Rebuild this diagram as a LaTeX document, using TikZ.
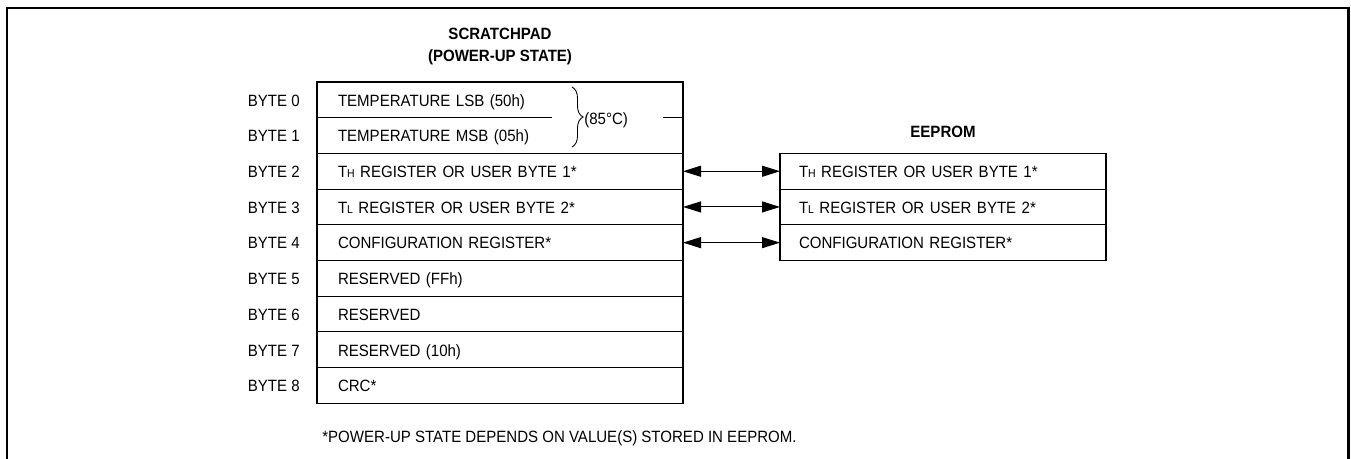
\documentclass[tikz,border=0pt]{standalone}
\usepackage{fontspec}
\setmainfont[FakeStretch=0.92]{Liberation Sans}
\usepackage{tikz}
\usetikzlibrary{arrows.meta, positioning, decorations.pathreplacing}
\newcommand{\regfont}{\fontsize{9.3}{13}\selectfont}
\newcommand{\smallsub}[1]{{\fontsize{6.5}{7}\selectfont #1}}
\tikzstyle{spreg}    = [rectangle, draw=black, line width=0.6pt, outer sep=0pt, minimum height=0.714cm, inner xsep=0.42cm, text width=6.48cm, align=left, text height=0.72em, text depth=0pt]
\tikzstyle{sptext}   = [spreg, draw=none]
\tikzstyle{eereg}    = [rectangle, draw=black, line width=0.6pt, outer sep=0pt, minimum height=0.714cm, inner xsep=0.38cm, text width=5.76cm, align=left, text height=0.72em, text depth=0pt]
\tikzstyle{bytelbl}  = [inner sep=0pt, text height=0.72em, text depth=0pt]
\tikzstyle{heading}  = [font=\regfont\bfseries, align=center]
\tikzstyle{arrow}    = [line width=0.6pt, {Triangle[length=0.36cm, width=0.22cm]}-{Triangle[length=0.36cm, width=0.22cm]}]
\tikzset{every node/.style={font=\regfont}}

\begin{document}
\begin{tikzpicture}
    \useasboundingbox (0,0) rectangle (27.02,-9.18);
    % open frame
    \draw [line width=1.2pt] (0.14,-9.18) |- (26.97,-0.16) -- (26.97,-9.18);

    \node (sp)  at (10.0, -0.93)  [heading] {SCRATCHPAD\\(POWER-UP STATE)};
    \node (b0)  at (10.0, -1.997) [sptext] {TEMPERATURE LSB (50h)};
    \node (b1)  at (10.0, -2.711) [sptext] {TEMPERATURE MSB (05h)};
    \node (b2)  at (10.0, -3.425) [spreg]  {T\smallsub{H} REGISTER OR USER BYTE 1*};
    \node (b3)  at (10.0, -4.139) [spreg]  {T\smallsub{L} REGISTER OR USER BYTE 2*};
    \node (b4)  at (10.0, -4.853) [spreg]  {CONFIGURATION REGISTER*};
    \node (b5)  at (10.0, -5.567) [spreg]  {RESERVED (FFh)};
    \node (b6)  at (10.0, -6.281) [spreg]  {RESERVED};
    \node (b7)  at (10.0, -6.995) [spreg]  {RESERVED (10h)};
    \node (b8)  at (10.0, -7.709) [spreg]  {CRC*};
    \draw [line width=0.6pt] (b0.north west) rectangle (b1.south east);
    \draw [line width=0.6pt] (b0.south west) -- ++(4.7,0);
    \draw [line width=0.6pt] (b0.south east) -- ++(-0.4,0);

    % byte numbers
    \node (l0) [bytelbl, left=0.34cm of b0] {BYTE 0};
    \node (l1) [bytelbl, left=0.34cm of b1] {BYTE 1};
    \node (l2) [bytelbl, left=0.34cm of b2] {BYTE 2};
    \node (l3) [bytelbl, left=0.34cm of b3] {BYTE 3};
    \node (l4) [bytelbl, left=0.34cm of b4] {BYTE 4};
    \node (l5) [bytelbl, left=0.34cm of b5] {BYTE 5};
    \node (l6) [bytelbl, left=0.34cm of b6] {BYTE 6};
    \node (l7) [bytelbl, left=0.34cm of b7] {BYTE 7};
    \node (l8) [bytelbl, left=0.34cm of b8] {BYTE 8};

    % brace over bytes 0 and 1
    \coordinate (bt) at (11.44,-1.74);
    \coordinate (bb) at (11.44,-2.94);
    \draw [line width=0.5pt, decorate, decoration={brace, amplitude=0.22cm}] (bt) -- (bb);
    \node (deg) at (11.68,-2.40) [anchor=west, inner sep=0pt] {(85°C)};

    \node (ee)  at (18.86, -2.64) [heading] {EEPROM};
    \node (e2)  at (18.86, -3.425) [eereg] {T\smallsub{H} REGISTER OR USER BYTE 1*};
    \node (e3)  at (18.86, -4.139) [eereg] {T\smallsub{L} REGISTER OR USER BYTE 2*};
    \node (e4)  at (18.86, -4.853) [eereg] {CONFIGURATION REGISTER*};

    \draw [arrow] (b2.east) -- (e2.west);
    \draw [arrow] (b3.east) -- (e3.west);
    \draw [arrow] (b4.east) -- (e4.west);

    \node (note) at (6.44, -8.76) [anchor=west, inner sep=0pt] {*POWER-UP STATE DEPENDS ON VALUE(S) STORED IN EEPROM.};
\end{tikzpicture}
\end{document}
